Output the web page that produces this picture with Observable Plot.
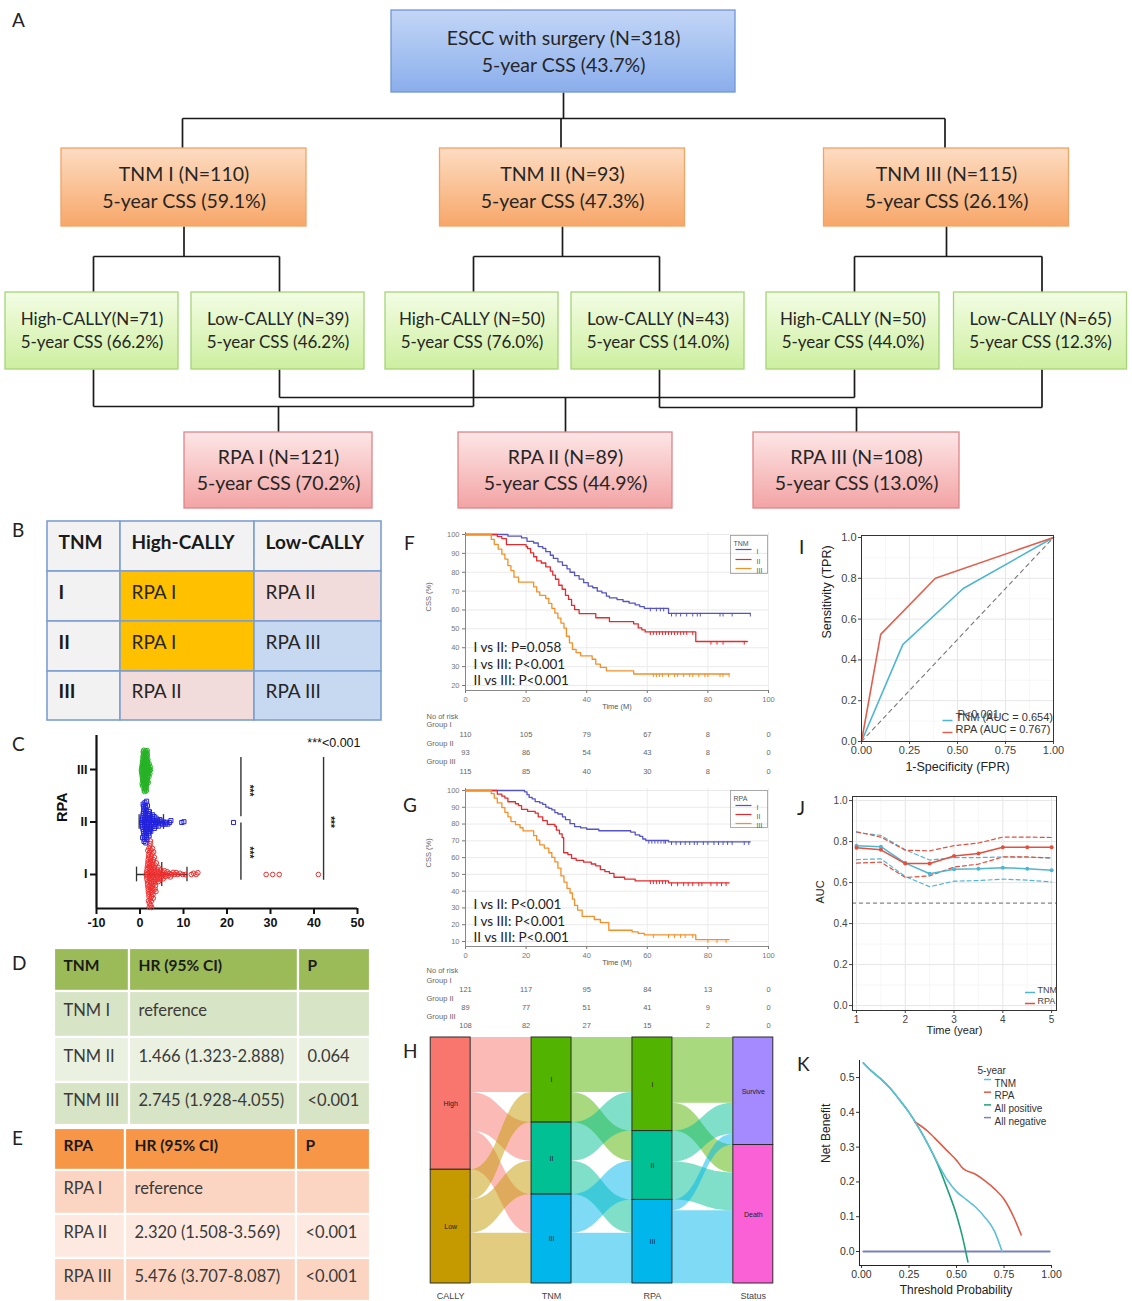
<!DOCTYPE html>
<html>
<head>
<meta charset="utf-8">
<script src="https://cdn.jsdelivr.net/npm/d3@7"></script>
<script src="https://cdn.jsdelivr.net/npm/@observablehq/plot@0.6"></script>
<style>
  body { margin: 0; background: #fff; }
  #fig { position: relative; width: 1132px; height: 1301px; overflow: hidden; background: #fff; }
  .plab { position: absolute; font-family: Lato, "Open Sans", sans-serif; font-size: 19px; line-height: 19px; color: #222; }
</style>
</head>
<body>
<div id="fig"></div>
<script>
// ======================= DATA =======================
// Panel A – stratification tree
const rootTitle = "ESCC with surgery (N=318)";
const rootCSS = "43.7%";
const tnmText = ["TNM I (N=110)", "TNM II (N=93)", "TNM III (N=115)"];
const tnmCSS = ["59.1%", "47.3%", "26.1%"];
const callyText = ["High-CALLY(N=71)", "Low-CALLY (N=39)", "High-CALLY (N=50)", "Low-CALLY (N=43)", "High-CALLY (N=50)", "Low-CALLY (N=65)"];
const callyCSS = ["66.2%", "46.2%", "76.0%", "14.0%", "44.0%", "12.3%"];
const callyParent = [0, 0, 1, 1, 2, 2];
const rpaText = ["RPA I (N=121)", "RPA II (N=89)", "RPA III (N=108)"];
const rpaCSS = ["70.2%", "44.9%", "13.0%"];
const callyToRpa = [0, 1, 0, 2, 1, 2];

// Panel B – RPA assignment table
const bHeader = ["TNM", "High-CALLY", "Low-CALLY"];
const bStages = ["I", "II", "III"];
const bAssign = [["RPA I", "RPA II"], ["RPA I", "RPA III"], ["RPA II", "RPA III"]];

// Panel C – CALLY values by RPA group
const rpaLevels = ["I", "II", "III"];
const cI = [1.42,1.5,1.55,1.6,1.64,1.68,1.72,1.75,1.78,1.82,1.85,1.88,1.9,1.93,1.96,1.99,2.02,2.04,2.07,2.1,2.12,2.15,2.18,2.2,2.23,2.26,2.28,2.31,2.34,2.37,2.4,2.43,2.46,2.49,2.52,2.55,2.58,2.61,2.64,2.68,2.72,2.75,2.79,2.83,2.87,2.91,2.95,2.99,3.03,3.08,3.12,3.17,3.22,3.27,3.32,3.38,3.44,3.5,3.56,3.62,3.69,3.76,3.83,3.9,3.98,4.06,4.15,4.24,4.33,4.43,4.54,4.65,4.77,4.9,5.04,5.18,5.33,5.5,5.68,5.87,6.07,6.28,6.5,6.75,7.0,7.3,7.6,7.95,8.3,8.7,9.2,9.8,10.4,11.8,12.3,12.9,13.3,29.0,30.5,32.0,41.0,1.8,1.95,2.05,2.16,2.29,2.36,2.47,2.58,2.66,2.77,2.89,3.0,3.14,3.3,3.47,3.66,2.11,2.41,2.7,3.05];
const cII = [0.4,0.46,0.52,0.57,0.62,0.66,0.7,0.74,0.78,0.82,0.86,0.9,0.94,0.98,1.02,1.06,1.1,1.14,1.18,1.22,1.26,1.3,1.34,1.38,1.42,1.46,1.5,1.55,1.6,1.65,1.7,1.75,1.8,1.86,1.92,1.98,2.05,2.12,2.2,2.28,2.37,2.46,2.56,2.66,2.77,2.88,3.0,3.12,3.25,3.38,3.52,3.67,3.83,4.0,4.18,4.37,4.57,4.78,5.0,5.25,5.5,5.8,6.1,6.4,6.8,7.1,9.6,10.1,21.5,0.6,0.8,1.0,1.2,1.4,1.6,0.72,0.92,1.12,1.32,1.52,1.72,1.9,2.1,2.3,2.5,2.9,3.3,3.7,4.3];
const cIII = [0.32,0.36,0.4,0.43,0.46,0.49,0.52,0.54,0.56,0.58,0.6,0.62,0.64,0.66,0.68,0.7,0.72,0.74,0.76,0.78,0.8,0.82,0.84,0.86,0.88,0.9,0.92,0.94,0.96,0.98,1.0,1.02,1.04,1.06,1.08,1.1,1.12,1.14,1.16,1.18,1.2,1.22,1.24,1.26,1.28,1.3,1.32,1.34,1.36,1.38,1.4,1.42,1.44,1.46,1.48,1.5,1.52,1.54,1.56,1.58,1.6,1.62,1.64,1.66,1.68,1.7,1.72,1.74,1.76,1.78,1.8,1.83,1.86,1.89,1.92,1.95,1.98,2.02,2.06,2.1,2.15,2.2,2.26,2.33,2.4,0.5,0.7,0.9,1.1,1.3,1.5,1.7,0.6,0.8,1.0,1.2,1.4,1.6,0.75,0.95,1.15,1.35,1.55,1.25,1.05,0.85,1.45,1.65];
const cMean = [5.0, 2.6, 1.2];
const cSD = [5.8, 2.8, 0.5];
const cCompare = [{x: 23.2, from: 3.23, to: 2.1}, {x: 23.2, from: 1.98, to: 0.89}, {x: 42.2, from: 3.23, to: 0.89}];
const cStars = [{x: 25.0, y: 2.6}, {x: 25.0, y: 1.42}, {x: 43.8, y: 2.0}];

// Panels D / E – hazard ratio tables
const dHeader = ["TNM", "HR (95% CI)", "P"];
const dRows = [["TNM I", "reference", ""], ["TNM II", "1.466 (1.323-2.888)", "0.064"], ["TNM III", "2.745 (1.928-4.055)", "<0.001"]];
const eHeader = ["RPA", "HR (95% CI)", "P"];
const eRows = [["RPA I", "reference", ""], ["RPA II", "2.320 (1.508-3.569)", "<0.001"], ["RPA III", "5.476 (3.707-8.087)", "<0.001"]];

// Panel F – KM by TNM  [time (months), CSS %]
const kmF_I = [[0,100],[14,99.1],[18.5,98.2],[20.3,96.4],[22.5,95.5],[24,93.6],[25.5,92.7],[26.5,90.9],[28,89],[29,87.3],[30.5,85.5],[32,83.6],[33.5,81.8],[34.5,80],[36,78.2],[37.5,76.4],[39,74.5],[40.5,72.7],[42,71.8],[43.5,70],[45,69.1],[46.5,67.3],[47.5,66.4],[50,65.5],[52,64.5],[54,63.6],[56,62.7],[57.5,61.8],[59,60.9],[67,58.2],[94,58.2]];
const kmF_II = [[0,100],[10.5,98.9],[12,97.8],[13.5,94.6],[20,93.5],[20.5,92.5],[21.5,90.3],[22.5,88.2],[23.5,86],[25,84.9],[26.5,82.8],[28,80.6],[28.8,78.5],[29.7,76.3],[30.8,73.1],[31.9,71],[33,67.7],[34,65.6],[35,62.4],[36,60.2],[37.5,58.1],[43,55.9],[47.5,53.8],[55.5,52.7],[57,50.5],[58.2,49.5],[59.3,48.4],[76,43.3],[93,43.3]];
const kmF_III = [[0,100],[8.5,97.4],[9.5,94.8],[10.8,92.2],[12,89.6],[13,87],[14,83.5],[15,80.9],[16,77.4],[17.5,74.8],[22.5,72.2],[23.5,69.6],[24.5,67.8],[26.5,66.1],[27.5,63.5],[28.5,60.9],[29.5,58.3],[30.5,55.7],[31.5,53],[32.5,50.4],[33.3,46.1],[34.3,42.6],[35.3,39.1],[36.5,37.4],[38,35.7],[41.8,33.9],[43,31.3],[44.5,29.6],[46.5,27.8],[55.5,26.1],[87,26.1]];
const censF_I = [61,63,64.3,65.4,68,69.5,71,73,75,76.5,77.5,84,85,88,94];
const censF_II = [61,62,63,64,65,66,67,68,69,70,71,72,73,75,81,83,85,92];
const censF_III = [62,63,64,65,67,69,70,72,74,75,77,79,80,84,85,87];
const riskTimes = [0, 20, 40, 60, 80, 100];
const riskF = [[110,105,79,67,8,0],[93,86,54,43,8,0],[115,85,40,30,8,0]];
const pF = ["I vs II: P=0.058", "I vs III: P<0.001", "II vs III: P<0.001"];

// Panel G – KM by RPA
const kmG_I = [[0,100],[19.5,99.2],[20.3,97.5],[21,95.9],[22,95],[23,93.4],[24.5,92.6],[25.5,91.7],[26.5,90.1],[27.5,89.3],[28.5,88.4],[29.5,86.8],[30.5,86],[32,84.3],[33,82.6],[34.5,80.2],[36,78.5],[38,77.7],[40,76.9],[44,76],[54.5,75.2],[56,73.6],[57.5,72.7],[58.5,71.1],[59.5,70.2],[67,69.4],[94,69.4]];
const kmG_II = [[0,100],[10.5,97.8],[12,96.6],[13,95.5],[14,93.3],[16.5,92.1],[17.5,91],[18.5,88.8],[20.5,87.6],[23,86.5],[24,84.3],[25.5,82],[27,79.8],[29.5,78.7],[30,76.4],[31,74.2],[31.9,71.9],[32.4,62.9],[33.8,61.8],[35,59.6],[36.5,58.4],[39,57.3],[41.5,56.2],[43,55.1],[44.5,52.8],[46,51.7],[47.5,50.6],[49,48.3],[52.5,47.2],[56,46.1],[67,44.9],[87,44.9]];
const kmG_III = [[0,100],[8.5,98.1],[9.5,95.4],[10.5,92.6],[12,89.8],[13,87],[14,84.3],[15,81.5],[16.5,79.6],[18,77.8],[19,75.9],[22.5,73.1],[23.5,70.4],[24.5,67.6],[26,65.7],[27.5,62.9],[28.5,60.1],[29.5,57.4],[30.5,53.7],[31.5,49.1],[32.5,45.4],[33.5,41.7],[34.5,38.9],[35.3,35.2],[36,31.5],[37,28.7],[38.5,25],[42.5,23.1],[44.5,21.3],[47.3,16.7],[55,15.7],[57,14.8],[59,13.9],[76,11.1],[87,11.1]];
const censG_I = [60.5,61.5,62.5,63.5,64.5,65.5,66,68,69.5,71,72.5,74,75.5,76.5,78.5,80,82,83.5,85,86.5,88,92,93.5];
const censG_II = [61,62,63,64,65,66,68,70,72,73.5,75,77,78,81,83,84.5,86];
const censG_III = [62,67,69,71,72.5,75,80,83,86];
const riskG = [[121,117,95,84,13,0],[89,77,51,41,9,0],[108,82,27,15,2,0]];
const pG = ["I vs II: P<0.001", "I vs III: P<0.001", "II vs III: P<0.001"];

// Panel H – alluvial flows (counts)
const sankeyAxes = ["CALLY", "TNM", "RPA", "Status"];
const sankeyStrata = [["High", "Low"], ["I", "II", "III"], ["I", "II", "III"], ["Survive", "Death"]];
const flowCallyTnm = [[71, 50, 50], [39, 43, 65]];
const flowTnmRpa = [[71, 39, 0], [50, 0, 43], [0, 50, 65]];
const flowRpaStatus = [[85, 36], [40, 49], [14, 94]];

// Panel I – ROC
const rocTNM = [[0,0],[0.215,0.475],[0.53,0.75],[1,1]];
const rocRPA = [[0,0],[0.1,0.525],[0.385,0.8],[1,1]];
const rocLegend = ["TNM (AUC = 0.654)", "RPA (AUC = 0.767)"];

// Panel J – time-dependent AUC
const jTime = [1, 1.5, 2, 2.5, 3, 3.5, 4, 4.5, 5];
const jTNM = [0.780,0.775,0.695,0.643,0.665,0.667,0.672,0.668,0.660];
const jTNMhi = [0.845,0.830,0.760,0.710,0.722,0.722,0.725,0.724,0.720];
const jTNMlo = [0.712,0.716,0.630,0.580,0.607,0.610,0.617,0.612,0.603];
const jRPA = [0.770,0.760,0.693,0.693,0.730,0.742,0.772,0.772,0.772];
const jRPAhi = [0.848,0.822,0.758,0.755,0.780,0.793,0.822,0.822,0.820];
const jRPAlo = [0.695,0.700,0.625,0.633,0.676,0.690,0.725,0.725,0.720];

// Panel K – decision curves [threshold, net benefit]
const dcaTNM = [[0.01,0.542],[0.05,0.52],[0.1,0.497],[0.15,0.47],[0.2,0.436],[0.25,0.40],[0.3,0.357],[0.35,0.308],[0.4,0.255],[0.45,0.207],[0.5,0.172],[0.55,0.15],[0.6,0.128],[0.65,0.098],[0.7,0.058],[0.74,0.0]];
const dcaRPA = [[0.28,0.373],[0.35,0.345],[0.4,0.318],[0.45,0.29],[0.5,0.262],[0.535,0.238],[0.6,0.222],[0.65,0.203],[0.7,0.18],[0.75,0.15],[0.8,0.10],[0.84,0.048]];
const dcaAllPos = [[0.01,0.542],[0.05,0.52],[0.1,0.497],[0.15,0.47],[0.2,0.436],[0.25,0.40],[0.3,0.357],[0.35,0.308],[0.4,0.252],[0.45,0.182],[0.5,0.105],[0.53,0.045],[0.56,-0.03]];
const dcaAllNeg = [[0.01,0],[0.99,0]];
const dcaLegend = ["TNM", "RPA", "All positive", "All negative"];

// ======================= HELPERS =======================
const CAL = "Lato, 'Open Sans', sans-serif";
const ARIAL = "'Liberation Sans', Arial, sans-serif";
const fig = document.getElementById("fig");
function place(node, left, top, w, h) {
  const d = document.createElement("div");
  d.style.cssText = `position:absolute;left:${left}px;top:${top}px;width:${w}px;height:${h}px;`;
  d.appendChild(node);
  fig.appendChild(d);
  return node;
}
function label(ch, left, top) {
  const d = document.createElement("div");
  d.className = "plab";
  d.style.left = left + "px"; d.style.top = top + "px";
  d.textContent = ch;
  fig.appendChild(d);
}
const hSym = {draw(ctx, size) { const r = Math.sqrt(size / Math.PI); ctx.moveTo(-r, 0); ctx.lineTo(r, 0); }};
const legLine = (stroke, frameAnchor, dx, dy, half, extra = {}) =>
  Plot.dot([0], {frameAnchor, dx, dy, r: half, symbol: hSym, stroke, fill: "none", strokeWidth: 1.5, ...extra});

// ======================= PANEL A =======================
(function () {
  const LA = {
    root: {cx: 563, w: 344, y0: 10, y1: 92},
    tnm: {cx: [183.5, 562, 946], w: 245, y0: 148, y1: 226},
    cally: {cx: [91.5, 277.5, 471.5, 657.5, 852.5, 1040], w: 173, y0: 292, y1: 369},
    rpa: {cx: [278, 565, 856], w: [188, 214, 206], y0: 432, y1: 508},
    busRoot: 118, busTnm: 256, busRpa: [406, 397, 407]
  };
  const nodes = [];
  const mk = (lvl, cx, w, y0, y1, l1, l2) => nodes.push({lvl, cx, w, y0, y1, l1, l2});
  mk("root", LA.root.cx, LA.root.w, LA.root.y0, LA.root.y1, rootTitle, `5-year CSS (${rootCSS})`);
  tnmText.forEach((t, i) => mk("tnm", LA.tnm.cx[i], LA.tnm.w, LA.tnm.y0, LA.tnm.y1, t, `5-year CSS (${tnmCSS[i]})`));
  callyText.forEach((t, i) => mk("cally", LA.cally.cx[i], LA.cally.w, LA.cally.y0, LA.cally.y1, t, `5-year CSS (${callyCSS[i]})`));
  rpaText.forEach((t, i) => mk("rpa", LA.rpa.cx[i], LA.rpa.w[i], LA.rpa.y0, LA.rpa.y1, t, `5-year CSS (${rpaCSS[i]})`));

  const segs = [];
  const seg = (x1, y1, x2, y2) => segs.push({x1, y1, x2, y2});
  seg(LA.root.cx, LA.root.y1, LA.root.cx, LA.busRoot);
  seg(d3.min(LA.tnm.cx) - 1.5, LA.busRoot, d3.max(LA.tnm.cx) - 1.5, LA.busRoot);
  LA.tnm.cx.forEach(cx => seg(cx - 1.5, LA.busRoot, cx - 1.5, LA.tnm.y0));
  LA.tnm.cx.forEach((cx, t) => {
    const kids = LA.cally.cx.filter((_, i) => callyParent[i] === t).map(k => k + 1.5);
    seg(cx, LA.tnm.y1, cx, LA.busTnm);
    seg(d3.min(kids), LA.busTnm, d3.max(kids), LA.busTnm);
    kids.forEach(k => seg(k, LA.busTnm, k, LA.cally.y0));
  });
  LA.rpa.cx.forEach((cx, r) => {
    const kids = LA.cally.cx.filter((_, i) => callyToRpa[i] === r).map(k => k + 1.5);
    const by = LA.busRpa[r];
    kids.forEach(k => seg(k, LA.cally.y1, k, by));
    seg(d3.min(kids), by, d3.max(kids), by);
    seg(cx, by, cx, LA.rpa.y0);
  });

  const lv = {
    root: {fill: "url(#gBlue)", stroke: "#7096d4", fs: 19.5, a: 0.345, b: 0.67},
    tnm: {fill: "url(#gOrange)", stroke: "#f2a366", fs: 19.5, a: 0.335, b: 0.68},
    cally: {fill: "url(#gGreen)", stroke: "#a5d577", fs: 17, a: 0.35, b: 0.65},
    rpa: {fill: "url(#gRed)", stroke: "#dd8589", fs: 19.5, a: 0.33, b: 0.68}
  };
  const marks = [Plot.link(segs, {x1: "x1", y1: "y1", x2: "x2", y2: "y2", stroke: "#1a1a1a", strokeWidth: 1.7})];
  for (const k of Object.keys(lv)) {
    const s = lv[k], nd = nodes.filter(n => n.lvl === k);
    marks.push(Plot.rect(nd, {x1: n => n.cx - n.w / 2, x2: n => n.cx + n.w / 2, y1: "y0", y2: "y1", fill: s.fill, stroke: s.stroke, strokeWidth: 1.3, ariaLabel: "box"}));
    marks.push(Plot.text(nd, {x: "cx", y: n => n.y0 + (n.y1 - n.y0) * s.a, text: "l1", fontSize: s.fs, fill: "#262626"}));
    marks.push(Plot.text(nd, {x: "cx", y: n => n.y0 + (n.y1 - n.y0) * s.b, text: "l2", fontSize: s.fs, fill: "#262626"}));
  }
  const svg = Plot.plot({
    width: 1132, height: 515, margin: 0,
    x: {domain: [0, 1132], range: [0, 1132], axis: null},
    y: {domain: [0, 515], range: [0, 515], axis: null},
    style: {fontFamily: CAL, background: "none"},
    marks
  });
  const defs = d3.select(svg).insert("defs", ":first-child");
  const grad = (id, c0, c1) => {
    const g = defs.append("linearGradient").attr("id", id).attr("x1", 0).attr("y1", 0).attr("x2", 0).attr("y2", 1);
    g.append("stop").attr("offset", "0%").attr("stop-color", c0);
    g.append("stop").attr("offset", "100%").attr("stop-color", c1);
  };
  grad("gBlue", "#c3d6f7", "#8aaeeb");
  grad("gOrange", "#fddcc2", "#f7a769");
  grad("gGreen", "#f3fde4", "#cdefa0");
  grad("gRed", "#fde6e6", "#f3a3a4");
  const f = defs.append("filter").attr("id", "shadowA").attr("x", "-5%").attr("y", "-5%").attr("width", "115%").attr("height", "125%");
  f.append("feDropShadow").attr("dx", 1.5).attr("dy", 2).attr("stdDeviation", 1.2).attr("flood-color", "#000").attr("flood-opacity", 0.28);
  d3.select(svg).selectAll('g[aria-label="box"]').attr("filter", "url(#shadowA)");
  place(svg, 0, 0, 1132, 515);
})();

// ======================= PANEL B =======================
(function () {
  const colE = [47, 120, 254, 381], rowE = [521, 571, 621, 671, 720];
  const rpaFill = {"RPA I": "#ffc000", "RPA II": "#f2dcdb", "RPA III": "#c6d9f1"};
  const cells = [];
  bHeader.forEach((h, c) => cells.push({r: 0, c, text: h, fill: "#f2f2f2", head: true}));
  bStages.forEach((s, r) => {
    cells.push({r: r + 1, c: 0, text: s, fill: "#f2f2f2", head: true});
    bAssign[r].forEach((a, j) => cells.push({r: r + 1, c: j + 1, text: a, fill: rpaFill[a], head: false}));
  });
  cells.forEach(d => { d.x1 = colE[d.c]; d.x2 = colE[d.c + 1]; d.y1 = rowE[d.r]; d.y2 = rowE[d.r + 1]; });
  const svg = Plot.plot({
    width: 350, height: 215, margin: 0,
    x: {domain: [40, 390], range: [0, 350], axis: null},
    y: {domain: [515, 730], range: [0, 215], axis: null},
    color: {type: "identity"},
    style: {fontFamily: CAL, background: "none"},
    marks: [
      Plot.rect(cells, {x1: "x1", x2: "x2", y1: "y1", y2: "y2", fill: "fill", stroke: "#7e9fd1", strokeWidth: 1.6}),
      Plot.text(cells.filter(d => d.head && (d.r === 0 || d.c === 0)), {x: d => d.x1 + 11, y: d => (d.y1 + d.y2) / 2 - 4, text: "text", textAnchor: "start", fontSize: 19, fontWeight: "bold", fill: "#1a1a1a"}),
      Plot.text(cells.filter(d => !d.head), {x: d => d.x1 + 11, y: d => (d.y1 + d.y2) / 2 - 4, text: "text", textAnchor: "start", fontSize: 19, fill: "#262626"})
    ]
  });
  place(svg, 40, 515, 350, 215);
})();

// ======================= PANEL C =======================
(function () {
  const W = 370, H = 208, L = 96, R = 13;
  const cData = [...cI.map(v => ({g: "I", v})), ...cII.map(v => ({g: "II", v})), ...cIII.map(v => ({g: "III", v}))];
  const sty = {I: {stroke: "#ef2d2d", symbol: "circle", rd: 1.25}, II: {stroke: "#2323dd", symbol: "square", rd: 1.15}, III: {stroke: "#25b325", symbol: "circle", rd: 0.8}};
  const dots = Plot.plot({
    width: W, height: H, marginLeft: L, marginRight: R, marginTop: 13, marginBottom: 37.5,
    x: {domain: [-10, 50], axis: null},
    fy: {domain: ["III", "II", "I"], padding: 0, axis: null},
    style: {background: "none"},
    marks: rpaLevels.map(g => Plot.dot(cData, {
      ...Plot.dodgeY({anchor: "middle", padding: 0, r: sty[g].rd}, {x: "v", fy: "g", filter: d => d.g === g}),
      r: 2.3, symbol: sty[g].symbol, stroke: sty[g].stroke, fill: "none", strokeWidth: 1
    }))
  });
  const yMin = 0.352, yMax = 3.648;
  const summ = rpaLevels.map((g, i) => ({lvl: i + 1, mean: cMean[i], lo: cMean[i] - cSD[i], hi: cMean[i] + cSD[i]}));
  const over = Plot.plot({
    width: W, height: H, marginLeft: L, marginRight: R, marginTop: 5, marginBottom: 30,
    x: {domain: [-10, 50], ticks: [-10, 0, 10, 20, 30, 40, 50], tickFormat: d => String(d), tickSize: 6, tickPadding: 4, label: null},
    y: {domain: [yMin, yMax], ticks: [1, 2, 3], tickFormat: d => rpaLevels[d - 1], tickSize: 6, tickPadding: 3, label: null},
    style: {fontFamily: ARIAL, fontSize: "12.5px", fontWeight: "bold", color: "#111", background: "none"},
    marks: [
      Plot.ruleX([-10], {stroke: "#111", strokeWidth: 2.2}),
      Plot.ruleY([yMin], {stroke: "#111", strokeWidth: 2.2}),
      Plot.link(summ, {x1: "lo", x2: "hi", y1: "lvl", y2: "lvl", stroke: "#333", strokeWidth: 1.3}),
      Plot.ruleX(summ, {x: "lo", y1: d => d.lvl - 0.14, y2: d => d.lvl + 0.14, stroke: "#333", strokeWidth: 1.3}),
      Plot.ruleX(summ, {x: "hi", y1: d => d.lvl - 0.14, y2: d => d.lvl + 0.14, stroke: "#333", strokeWidth: 1.3}),
      Plot.ruleX(summ, {x: "mean", y1: d => d.lvl - 0.23, y2: d => d.lvl + 0.23, stroke: "#333", strokeWidth: 1.3}),
      Plot.ruleX(cCompare, {x: "x", y1: "from", y2: "to", stroke: "#333", strokeWidth: 1.4}),
      Plot.text(cStars, {x: "x", y: "y", text: () => "***", rotate: 90, fontSize: 10, fontWeight: "bold", fill: "#222"}),
      Plot.text(["***<0.001"], {frameAnchor: "top-right", dx: 3, dy: 3, textAnchor: "end", fontSize: 12.5, fontWeight: "normal", fill: "#111"}),
      Plot.text(["RPA"], {frameAnchor: "left", dx: -34, rotate: -90, fontSize: 14.5, fontWeight: "bold", fill: "#111"})
    ]
  });
  d3.select(over).selectAll('g[aria-label$="tick"] path, g[aria-label$="tick"] line').attr("stroke-width", 2);
  place(over, 0, 730, W, H);
  place(dots, 0, 730, W, H);
})();

// ======================= PANELS D & E =======================
(function () {
  const tables = [
    {header: dHeader, rows: dRows, colE: [54, 129, 298, 370], rowE: [948, 991, 1037, 1082, 1125], head: "#9bbb59", fills: ["#d8e4c6", "#ebf1e1", "#d8e4c6"]},
    {header: eHeader, rows: eRows, colE: [54, 125, 296, 370], rowE: [1128, 1170, 1214, 1258, 1301], head: "#f79646", fills: ["#fbd5c2", "#fde9df", "#fbd5c2"]}
  ];
  const cells = [];
  tables.forEach(t => {
    t.header.forEach((h, c) => cells.push({x1: t.colE[c], x2: t.colE[c + 1], y1: t.rowE[0], y2: t.rowE[1], text: h, fill: t.head, head: true}));
    t.rows.forEach((row, r) => row.forEach((v, c) => cells.push({x1: t.colE[c], x2: t.colE[c + 1], y1: t.rowE[r + 1], y2: t.rowE[r + 2], text: v, fill: t.fills[r], head: false})));
  });
  const svg = Plot.plot({
    width: 345, height: 366, margin: 0,
    x: {domain: [40, 385], range: [0, 345], axis: null},
    y: {domain: [940, 1306], range: [0, 366], axis: null},
    color: {type: "identity"},
    style: {fontFamily: CAL, background: "none"},
    marks: [
      Plot.rect(cells, {x1: "x1", x2: "x2", y1: "y1", y2: "y2", fill: "fill", stroke: "#fff", strokeWidth: 2.2}),
      Plot.text(cells.filter(d => d.head), {x: d => d.x1 + 9, y: d => (d.y1 + d.y2) / 2 - 3.5, text: "text", textAnchor: "start", fontSize: 15.5, fontWeight: "bold", fill: "#1a1a1a"}),
      Plot.text(cells.filter(d => !d.head), {x: d => d.x1 + 9, y: d => (d.y1 + d.y2) / 2 - 3.5, text: "text", textAnchor: "start", fontSize: 16.5, fill: "#3a3a3a"})
    ]
  });
  place(svg, 40, 940, 345, 366);
})();

// ======================= PANELS F & G (Kaplan–Meier) =======================
function kmPanel({top, curves, censors, y0, y1, yTicks, legendTitle, pText, risk, riskDy, legendBox, pDy, tickLen}) {
  const colors = ["#5454c6", "#e52a2f", "#f39028"];
  const stepAt = (c, t) => { let s = c[0][1]; for (const p of c) { if (p[0] <= t) s = p[1]; } return s; };
  const marks = [
    Plot.ruleY(yTicks, {stroke: "#e4e4e4", strokeWidth: 0.8}),
    Plot.ruleX([20, 40, 60, 80, 100], {stroke: "#e8e8e8", strokeWidth: 0.8}),
    Plot.ruleX([0], {stroke: "#888"}),
    Plot.ruleY([y0], {stroke: "#888"})
  ];
  curves.forEach((c, i) => {
    marks.push(Plot.line(c, {x: d => d[0], y: d => d[1], curve: "step-after", stroke: colors[i], strokeWidth: 1.3}));
    marks.push(Plot.ruleX(censors[i], {x: t => t, y1: t => stepAt(c, t), y2: t => stepAt(c, t) - tickLen, stroke: colors[i], strokeWidth: 1}));
  });
  marks.push(Plot.text([pText.join("\n")], {frameAnchor: "bottom-left", dx: 8, dy: pDy, textAnchor: "start", lineAnchor: "middle", lineHeight: 1.23, fontSize: 13.5, fontFamily: CAL, fill: "#222"}));
  // legend
  marks.push(Plot.frame({insetLeft: legendBox.l, insetRight: 1, insetTop: legendBox.t, insetBottom: legendBox.b, stroke: "#9a9a9a", strokeWidth: 0.8}));
  marks.push(Plot.text([legendTitle], {frameAnchor: "top-right", dx: -35, dy: legendBox.t + 6, textAnchor: "start", fontSize: 7, fill: "#555"}));
  rpaLevels.forEach((g, i) => {
    marks.push(legLine(colors[i], "top-right", -25, legendBox.rows[i], 8, {strokeWidth: 1.2}));
    marks.push(Plot.text([g], {frameAnchor: "top-right", dx: -12, dy: legendBox.rows[i], textAnchor: "start", fontSize: 7, fill: "#555"}));
  });
  // axis titles
  marks.push(Plot.text(["CSS (%)"], {frameAnchor: "left", dx: -37, rotate: -90, fontSize: 7.5, fill: "#666"}));
  marks.push(Plot.text(["Time (M)"], {frameAnchor: "bottom", dy: riskDy[0], fontSize: 7.5, fill: "#555"}));
  // risk table
  marks.push(Plot.text(["No of risk"], {frameAnchor: "bottom-left", dx: -39, dy: riskDy[1], textAnchor: "start", fontSize: 7.5, fill: "#666"}));
  ["Group I", "Group II", "Group III"].forEach((gname, i) => {
    marks.push(Plot.text([gname], {frameAnchor: "bottom-left", dx: -39, dy: riskDy[2 + 2 * i], textAnchor: "start", fontSize: 7.5, fill: "#666"}));
    marks.push(Plot.text(risk[i], {x: (d, j) => riskTimes[j], text: d => String(d), frameAnchor: "bottom", dy: riskDy[3 + 2 * i], fontSize: 7.5, fill: "#666"}));
  });
  const svg = Plot.plot({
    width: 385, height: 256, marginLeft: 65, marginRight: 17, marginTop: 7, marginBottom: 91,
    x: {domain: [0, 100], ticks: riskTimes, tickSize: 3, tickPadding: 3, label: null},
    y: {domain: [y0, y1], ticks: yTicks, tickSize: 3, tickPadding: 3, label: null},
    style: {fontFamily: ARIAL, fontSize: "7.5px", color: "#777", background: "none"},
    marks
  });
  place(svg, 400, top, 385, 256);
}
kmPanel({
  top: 525, curves: [kmF_I, kmF_II, kmF_III], censors: [censF_I, censF_II, censF_III],
  y0: 17.35, y1: 101.06, yTicks: [20, 30, 40, 50, 60, 70, 80, 90, 100], legendTitle: "TNM", pText: pF, risk: riskF,
  riskDy: [18, 28, 36, 46, 55, 64, 73, 83], legendBox: {l: 265, t: 3, b: 117, rows: [17, 27, 36]}, pDy: -27, tickLen: 1.9
});
kmPanel({
  top: 781, curves: [kmG_I, kmG_II, kmG_III], censors: [censG_I, censG_II, censG_III],
  y0: 7.02, y1: 101.19, yTicks: [10, 20, 30, 40, 50, 60, 70, 80, 90, 100], legendTitle: "RPA", pText: pG, risk: riskG,
  riskDy: [18, 26, 36, 45, 54, 63, 72, 81], legendBox: {l: 265, t: 2, b: 119, rows: [17, 26, 35]}, pDy: -26, tickLen: 2.2
});

// ======================= PANEL H (alluvial) =======================
(function () {
  const strataColors = {High: "#F8766D", Low: "#C49A00", I: "#53B400", II: "#00C094", III: "#00B6EB", Survive: "#A58AFF", Death: "#FB61D7"};
  const flows = [flowCallyTnm, flowTnmRpa, flowRpaStatus];
  const sizes = sankeyStrata.map((names, a) =>
    a < 3 ? flows[a].map(row => d3.sum(row)) : names.map((_, j) => d3.sum(flows[2], row => row[j])));
  const strata = [];
  const starts = sizes.map((sz, a) => {
    let acc = 0;
    return sz.map((s, k) => { const st = acc; strata.push({x: a + 1, y1: acc, y2: acc + s, name: sankeyStrata[a][k], color: strataColors[sankeyStrata[a][k]]}); acc += s; return st; });
  });
  const hw = 0.198;
  const pts = [];
  flows.forEach((m, a) => {
    const outOff = starts[a].slice(), inOff = starts[a + 1].slice();
    m.forEach((row, i) => row.forEach((c, j) => {
      if (!c) return;
      const color = strataColors[sankeyStrata[a][i]];
      pts.push({id: `${a}-${i}-${j}`, color, x: a + 1 + hw, y1: outOff[i], y2: outOff[i] + c});
      outOff[i] += c;
    }));
    m[0].forEach((_, j) => m.forEach((row, i) => {
      const c = row[j];
      if (!c) return;
      const color = strataColors[sankeyStrata[a][i]];
      pts.push({id: `${a}-${i}-${j}`, color, x: a + 2 - hw, y1: inOff[j], y2: inOff[j] + c});
      inOff[j] += c;
    }));
  });
  pts.sort((p, q) => d3.ascending(p.id, q.id) || d3.ascending(p.x, q.x));
  const svg = Plot.plot({
    width: 381, height: 271, marginLeft: 30, marginRight: 8, marginTop: 7, marginBottom: 18,
    x: {domain: [0.8, 4.2], ticks: [1, 2, 3, 4], tickFormat: d => sankeyAxes[d - 1], tickSize: 0, tickPadding: 9, label: null},
    y: {domain: [0, 318], range: [7, 253], axis: null},
    color: {type: "identity"},
    style: {fontFamily: ARIAL, fontSize: "9px", color: "#444", background: "none"},
    marks: [
      Plot.areaY(pts, {x: "x", y1: "y1", y2: "y2", z: "id", fill: "color", fillOpacity: 0.5, curve: "bump-x"}),
      Plot.rect(strata, {x1: d => d.x - hw, x2: d => d.x + hw, y1: "y1", y2: "y2", fill: "color", stroke: "#2b2b2b", strokeWidth: 1}),
      Plot.text(strata, {x: "x", y: d => (d.y1 + d.y2) / 2, text: "name", fontSize: 7, fill: "#222"})
    ]
  });
  place(svg, 400, 1030, 381, 271);
})();

// ======================= PANEL I (ROC) =======================
(function () {
  const cT = "#4fb6d2", cR = "#e0604f";
  const svg = Plot.plot({
    width: 340, height: 255, marginLeft: 71, marginRight: 77, marginTop: 10, marginBottom: 39,
    x: {domain: [0, 1], ticks: [0, 0.25, 0.5, 0.75, 1], tickFormat: ".2f", tickSize: 3, tickPadding: 2, label: null},
    y: {domain: [0, 1.0098], ticks: [0, 0.2, 0.4, 0.6, 0.8, 1], tickFormat: ".1f", tickSize: 3, tickPadding: 2, label: null},
    style: {fontFamily: ARIAL, fontSize: "11px", color: "#444", background: "none"},
    marks: [
      Plot.ruleX([0.125, 0.375, 0.625, 0.875], {stroke: "#f3f3f3", strokeWidth: 0.7}),
      Plot.ruleY([0.1, 0.3, 0.5, 0.7, 0.9], {stroke: "#f3f3f3", strokeWidth: 0.7}),
      Plot.ruleX([0.25, 0.5, 0.75], {stroke: "#e6e6e6", strokeWidth: 1}),
      Plot.ruleY([0.2, 0.4, 0.6, 0.8], {stroke: "#e6e6e6", strokeWidth: 1}),
      Plot.line([[0, 0], [1, 1]], {stroke: "#777", strokeDasharray: "4,4", strokeWidth: 1.1}),
      Plot.line(rocTNM, {stroke: cT, strokeWidth: 1.6}),
      Plot.line(rocRPA, {stroke: cR, strokeWidth: 1.6}),
      Plot.frame({stroke: "#333", strokeWidth: 1}),
      legLine(cT, "bottom-left", 86, -21, 5),
      legLine(cR, "bottom-left", 86, -9, 5),
      Plot.text([rocLegend[0]], {frameAnchor: "bottom-left", dx: 94, dy: -21, textAnchor: "start", fontSize: 11, fill: "#333"}),
      Plot.text([rocLegend[1]], {frameAnchor: "bottom-left", dx: 94, dy: -9, textAnchor: "start", fontSize: 11, fill: "#333"}),
      Plot.text(["P<0.001"], {frameAnchor: "bottom-left", dx: 96, dy: -24, textAnchor: "start", fontSize: 11, fill: "#444"}),
      Plot.text(["Sensitivity (TPR)"], {frameAnchor: "left", dx: -35, rotate: -90, fontSize: 12.5, fill: "#222"}),
      Plot.text(["1-Specificity (FPR)"], {frameAnchor: "bottom", dy: 29, fontSize: 12.5, fill: "#222"})
    ]
  });
  place(svg, 790, 525, 340, 255);
})();

// ======================= PANEL J (time AUC) =======================
(function () {
  const cT = "#4fb6d2", cR = "#e0513f";
  const pts = (arr) => jTime.map((t, i) => [t, arr[i]]);
  const svg = Plot.plot({
    width: 340, height: 260, marginLeft: 62, marginRight: 74, marginTop: 11, marginBottom: 35,
    x: {domain: [0.918, 5.10], ticks: [1, 2, 3, 4, 5], tickFormat: d => String(d), tickSize: 3, tickPadding: 2, label: null},
    y: {domain: [-0.024, 1.02], ticks: [0, 0.2, 0.4, 0.6, 0.8, 1], tickFormat: ".1f", tickSize: 3, tickPadding: 2, label: null},
    style: {fontFamily: ARIAL, fontSize: "10px", color: "#444", background: "none"},
    marks: [
      Plot.ruleX([1.5, 2.5, 3.5, 4.5], {stroke: "#f3f3f3", strokeWidth: 0.7}),
      Plot.ruleY([0.1, 0.3, 0.5, 0.7, 0.9], {stroke: "#f3f3f3", strokeWidth: 0.7}),
      Plot.ruleX([1, 2, 3, 4, 5], {stroke: "#e6e6e6", strokeWidth: 1}),
      Plot.ruleY([0, 0.2, 0.4, 0.6, 0.8, 1], {stroke: "#e6e6e6", strokeWidth: 1}),
      Plot.ruleY([0.5], {stroke: "#888", strokeDasharray: "4,3", strokeWidth: 1.1}),
      Plot.line(pts(jTNMhi), {stroke: cT, strokeDasharray: "4,3", strokeWidth: 1.2}),
      Plot.line(pts(jTNMlo), {stroke: cT, strokeDasharray: "4,3", strokeWidth: 1.2}),
      Plot.line(pts(jRPAhi), {stroke: cR, strokeDasharray: "4,3", strokeWidth: 1.2}),
      Plot.line(pts(jRPAlo), {stroke: cR, strokeDasharray: "4,3", strokeWidth: 1.2}),
      Plot.line(pts(jTNM), {stroke: cT, strokeWidth: 1.5}),
      Plot.dot(pts(jTNM), {fill: cT, r: 2}),
      Plot.line(pts(jRPA), {stroke: cR, strokeWidth: 1.5}),
      Plot.dot(pts(jRPA), {fill: cR, r: 2}),
      Plot.frame({stroke: "#333", strokeWidth: 1}),
      legLine(cT, "bottom-right", -26.5, -18, 5),
      legLine(cR, "bottom-right", -26.5, -7, 5),
      Plot.text(["TNM"], {frameAnchor: "bottom-right", dx: -19, dy: -18, textAnchor: "start", fontSize: 9, fill: "#444"}),
      Plot.text(["RPA"], {frameAnchor: "bottom-right", dx: -19, dy: -7, textAnchor: "start", fontSize: 9, fill: "#444"}),
      Plot.text(["AUC"], {frameAnchor: "left", dx: -32, rotate: -90, fontSize: 11, fill: "#222"}),
      Plot.text(["Time (year)"], {frameAnchor: "bottom", dy: 23, fontSize: 11, fill: "#222"})
    ]
  });
  place(svg, 790, 785, 340, 260);
})();

// ======================= PANEL K (decision curve) =======================
(function () {
  const cols = ["#5ec0d6", "#e05a48", "#22a07a", "#7b80c0"];
  const svg = Plot.plot({
    width: 340, height: 261, marginLeft: 69, marginRight: 78, marginTop: 20, marginBottom: 36,
    x: {domain: [-0.0105, 1.005], ticks: [0, 0.25, 0.5, 0.75, 1], tickFormat: ".2f", tickSize: 3, tickPadding: 2, label: null},
    y: {domain: [-0.0402, 0.549], ticks: [0, 0.1, 0.2, 0.3, 0.4, 0.5], tickFormat: ".1f", tickSize: 3, tickPadding: 2, label: null},
    style: {fontFamily: ARIAL, fontSize: "10.5px", color: "#333", background: "none"},
    marks: [
      Plot.ruleX([-0.0105], {stroke: "#222", strokeWidth: 1}),
      Plot.ruleY([-0.0402], {stroke: "#222", strokeWidth: 1}),
      Plot.line(dcaAllNeg, {stroke: cols[3], strokeWidth: 2}),
      Plot.line(dcaAllPos, {stroke: cols[2], strokeWidth: 1.6, curve: "monotone-x"}),
      Plot.line(dcaRPA, {stroke: cols[1], strokeWidth: 1.6, curve: "monotone-x"}),
      Plot.line(dcaTNM, {stroke: cols[0], strokeWidth: 1.6, curve: "monotone-x"}),
      Plot.text(["5-year"], {frameAnchor: "top-left", dx: 118, dy: 6, textAnchor: "start", fontSize: 10, fill: "#333"}),
      ...dcaLegend.flatMap((t, i) => [
        legLine(cols[i], "top-left", 128, 19 + i * 12.7, 3.5),
        Plot.text([t], {frameAnchor: "top-left", dx: 135, dy: 19 + i * 12.7, textAnchor: "start", fontSize: 10, fill: "#333"})
      ]),
      Plot.text(["Net Benefit"], {frameAnchor: "left", dx: -33, rotate: -90, fontSize: 12, fill: "#222"}),
      Plot.text(["Threshold Probability"], {frameAnchor: "bottom", dy: 28, fontSize: 12, fill: "#222"})
    ]
  });
  place(svg, 790, 1040, 340, 261);
})();

// ======================= PANEL LABELS =======================
[["A", 12, 10], ["B", 12, 520], ["C", 12, 734], ["D", 12, 953], ["E", 12, 1128],
 ["F", 404, 533], ["G", 403, 795], ["H", 403, 1041], ["I", 799, 537], ["J", 797, 798], ["K", 797, 1054]]
  .forEach(([c, x, y]) => label(c, x, y));
</script>
</body>
</html>
